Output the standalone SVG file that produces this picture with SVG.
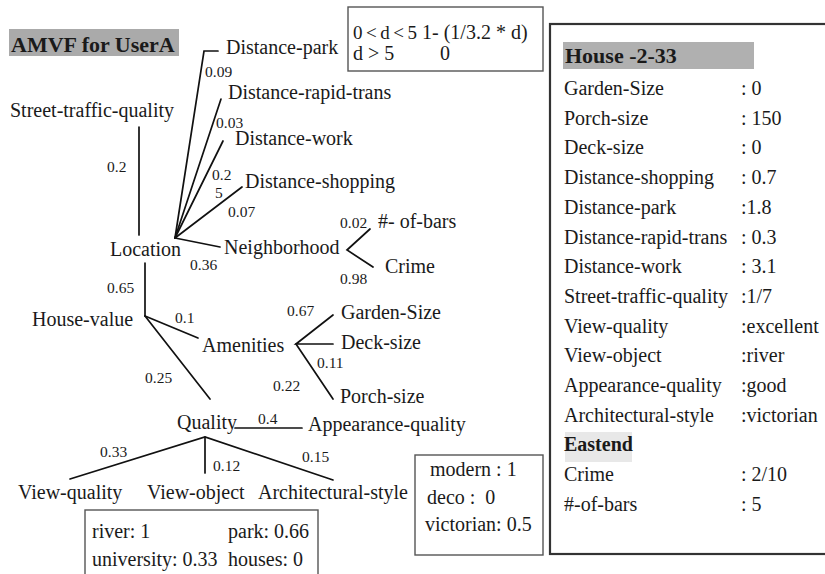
<svg xmlns="http://www.w3.org/2000/svg" width="825" height="574" viewBox="0 0 825 574">
  <style>
    text { font-family: "Liberation Serif", "Times New Roman", serif; fill: #1a1a1a; }
    .n { font-size: 20px; }
    .w { font-size: 15.5px; }
    .b { font-size: 22px; font-weight: bold; }
    .e { font-size: 20px; font-weight: bold; }
    .f { font-size: 19px; }
    .c line, .c polyline { stroke: #111; stroke-width: 1.7; fill: none; stroke-linecap: round; stroke-linejoin: miter; }
    .box { fill: #fff; stroke: #555; stroke-width: 1.4; }
  </style>
  <rect width="825" height="574" fill="#fff"/>

  <!-- title -->
  <g id="title">
    <rect x="9" y="29" width="170" height="27" fill="#aaaaaa"/>
    <text class="b" x="11" y="52">AMVF for UserA</text>
  </g>

  <!-- tree edges -->
  <g id="connectors" class="c">
    <line x1="139" y1="127" x2="139" y2="235"/>
    <polyline points="175,238 204,51 218,51"/>
    <line x1="175" y1="238" x2="221" y2="99"/>
    <line x1="175" y1="238" x2="223" y2="141"/>
    <line x1="175" y1="238" x2="242" y2="187"/>
    <line x1="175" y1="238" x2="220" y2="247"/>
    <polyline points="370,229 347,250 373,267"/>
    <line x1="145" y1="263" x2="145" y2="316"/>
    <line x1="145" y1="316" x2="198" y2="338"/>
    <line x1="145" y1="316" x2="210" y2="399"/>
    <polyline points="333,315 296,344 333,344"/>
    <line x1="296" y1="344" x2="333" y2="399"/>
    <line x1="235" y1="428" x2="302" y2="428"/>
    <polyline points="70,479 205,437 333,480"/>
    <line x1="205" y1="437" x2="205" y2="473"/>
  </g>

  <!-- edge weights -->
  <g id="weights" class="w">
    <text x="107" y="172">0.2</text>
    <text x="205" y="77">0.09</text>
    <text x="216" y="128">0.03</text>
    <text x="212" y="180">0.2</text>
    <text x="215" y="198">5</text>
    <text x="228" y="217">0.07</text>
    <text x="190" y="270">0.36</text>
    <text x="340" y="228">0.02</text>
    <text x="340" y="284">0.98</text>
    <text x="107" y="293">0.65</text>
    <text x="175" y="323">0.1</text>
    <text x="145" y="383">0.25</text>
    <text x="287" y="316">0.67</text>
    <text x="317" y="368">0.11</text>
    <text x="273" y="391">0.22</text>
    <text x="258" y="424">0.4</text>
    <text x="100" y="457">0.33</text>
    <text x="213" y="471">0.12</text>
    <text x="302" y="462">0.15</text>
  </g>

  <!-- attribute nodes -->
  <g id="street-traffic-quality"><text class="n" x="10" y="117">Street-traffic-quality</text></g>
  <g id="distance-park"><text class="n" x="226" y="54">Distance-park</text></g>
  <g id="distance-rapid-trans"><text class="n" x="228" y="99">Distance-rapid-trans</text></g>
  <g id="distance-work"><text class="n" x="235" y="145">Distance-work</text></g>
  <g id="distance-shopping"><text class="n" x="245" y="188">Distance-shopping</text></g>
  <g id="location"><text class="n" x="110" y="256">Location</text></g>
  <g id="neighborhood"><text class="n" x="224" y="254">Neighborhood</text></g>
  <g id="bars"><text class="n" x="378" y="228">#- of-bars</text></g>
  <g id="crime"><text class="n" x="385" y="273">Crime</text></g>
  <g id="house-value"><text class="n" x="32" y="326">House-value</text></g>
  <g id="amenities"><text class="n" x="202" y="352">Amenities</text></g>
  <g id="garden-size"><text class="n" x="341" y="319">Garden-Size</text></g>
  <g id="deck-size"><text class="n" x="341" y="349">Deck-size</text></g>
  <g id="porch-size"><text class="n" x="340" y="403">Porch-size</text></g>
  <g id="quality"><text class="n" x="177" y="429">Quality</text></g>
  <g id="appearance-quality"><text class="n" x="308" y="431">Appearance-quality</text></g>
  <g id="view-quality"><text class="n" x="18" y="499">View-quality</text></g>
  <g id="view-object"><text class="n" x="147" y="499">View-object</text></g>
  <g id="architectural-style"><text class="n" x="258" y="499">Architectural-style</text></g>

  <!-- value function for distances -->
  <g id="distance-function">
    <rect class="box" x="348" y="7" width="195" height="64"/>
    <text class="f" x="353" y="39" textLength="64" lengthAdjust="spacing">0 &lt; d &lt; 5</text>
    <text class="n" x="422" y="39">1- (1/3.2 * d)</text>
    <text class="n" x="353" y="60">d &gt; 5</text>
    <text class="n" x="440" y="60">0</text>
  </g>

  <!-- value function for view objects -->
  <g id="view-object-values">
    <rect class="box" x="85" y="510" width="233" height="80"/>
    <text class="n" x="92" y="538">river: 1</text>
    <text class="n" x="228" y="538">park: 0.66</text>
    <text class="n" x="92" y="566">university: 0.33</text>
    <text class="n" x="228" y="566">houses: 0</text>
  </g>

  <!-- value function for styles -->
  <g id="style-values">
    <rect class="box" x="415" y="455" width="128" height="100"/>
    <text class="n" x="430" y="476">modern : 1</text>
    <text class="n" x="427" y="504" xml:space="preserve">deco :  0</text>
    <text class="n" x="425" y="531">victorian: 0.5</text>
  </g>

  <!-- house record -->
  <g id="house-record">
    <rect x="550" y="24" width="285" height="530" fill="#fff" stroke="#333" stroke-width="2.2"/>
    <rect x="563" y="42" width="191" height="27" fill="#b0b0b0"/>
    <text class="b" x="565" y="63">House -2-33</text>
    <g class="n">
      <text x="564" y="95">Garden-Size</text><text x="741" y="95">: 0</text>
      <text x="564" y="124.7">Porch-size</text><text x="741" y="124.7">: 150</text>
      <text x="564" y="154.4">Deck-size</text><text x="741" y="154.4">: 0</text>
      <text x="564" y="184.1">Distance-shopping</text><text x="741" y="184.1">: 0.7</text>
      <text x="564" y="213.8">Distance-park</text><text x="741" y="213.8">:1.8</text>
      <text x="564" y="243.5">Distance-rapid-trans</text><text x="741" y="243.5">: 0.3</text>
      <text x="564" y="273.2">Distance-work</text><text x="741" y="273.2">: 3.1</text>
      <text x="564" y="302.9">Street-traffic-quality</text><text x="741" y="302.9">:1/7</text>
      <text x="564" y="332.6">View-quality</text><text x="741" y="332.6">:excellent</text>
      <text x="564" y="362.3">View-object</text><text x="741" y="362.3">:river</text>
      <text x="564" y="392">Appearance-quality</text><text x="741" y="392">:good</text>
      <text x="564" y="421.7">Architectural-style</text><text x="741" y="421.7">:victorian</text>
    </g>
    <rect x="565" y="432" width="67" height="30" fill="#e8e8e8"/>
    <text class="e" x="564" y="451.4">Eastend</text>
    <g class="n">
      <text x="564" y="481.1">Crime</text><text x="741" y="481.1">: 2/10</text>
      <text x="564" y="510.8">#-of-bars</text><text x="741" y="510.8">: 5</text>
    </g>
  </g>
</svg>
